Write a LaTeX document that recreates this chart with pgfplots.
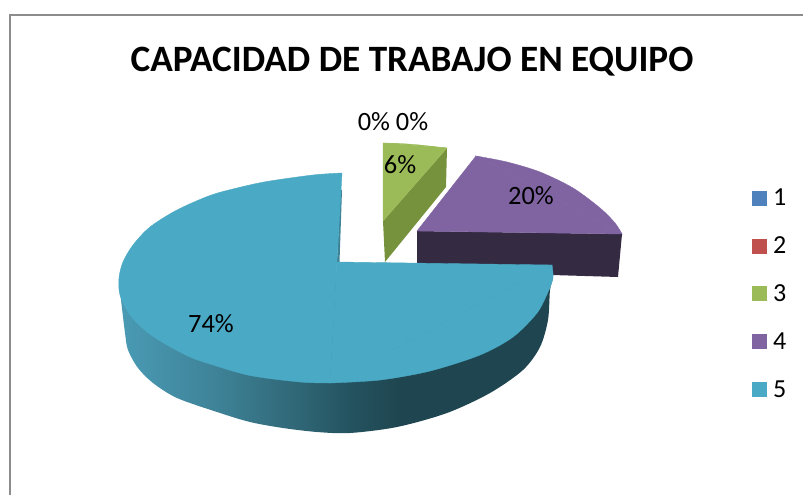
\documentclass[border=0pt]{standalone}
\usepackage{pgfplots}
\pgfplotsset{compat=1.18}
\usepackage{fontspec}
\setmainfont{Carlito}
\definecolor{c1}{HTML}{4F81BD}
\definecolor{c2}{HTML}{C0504D}
\definecolor{c3}{HTML}{9BBB59}
\definecolor{c3d}{HTML}{76923C}
\definecolor{c4}{HTML}{8064A2}
\definecolor{c4d}{HTML}{342A42}
\definecolor{c5}{HTML}{4AA9C4}
\definecolor{s0}{HTML}{4A9BB5}
\definecolor{s1}{HTML}{3E8297}
\definecolor{s2}{HTML}{2F6675}
\definecolor{s3}{HTML}{245360}
\definecolor{s4}{HTML}{1F4650}
\pgfdeclarehorizontalshading{tealside}{100bp}{color(0bp)=(s0); color(25bp)=(s0); color(36.3bp)=(s1); color(45.8bp)=(s2); color(51.6bp)=(s3); color(57.3bp)=(s4); color(100bp)=(s4)}
\begin{document}
\begin{tikzpicture}
\useasboundingbox (0,0) rectangle (803pt,495pt);
\begin{axis}[
  at={(0,0)}, anchor=south west,
  scale only axis, width=803pt, height=495pt,
  xmin=0, xmax=803, ymin=0, ymax=495, y dir=reverse,
  hide axis, clip=false,
  legend cell align=left,
  legend image code/.code={\fill[draw=none,#1] (0pt,-7.5pt) rectangle (15pt,7.5pt); \path[draw=none,fill=none] (0pt,0pt) -- (19pt,0pt);},
  legend style={draw=none, fill=none, at={(axis cs:752,187)}, anchor=north west,
    font=\fontsize{26}{26}\selectfont, row sep=25.5pt, inner sep=0pt, nodes={inner sep=2pt}},
]
% frame
\addplot[forget plot, color=black!45, line width=2pt] coordinates {(803,15.5) (9.5,15.5) (9.5,495)};
% teal side: lower rim, closed by a chord hidden under the top face
\addplot[forget plot, draw=none, shading=tealside, smooth] coordinates {
 (119,283) (121,300) (125,333) (128,350) (138,368) (153,383) (177,398) (217,412) (250,422) (283,428) (317,432) (350,433)
 (397,427) (447,413) (490,393) (523,370) (540,347) (548,320) (550,290) (553,278)
} -- cycle;
% purple side
\addplot[forget plot, draw=none, fill=c4d] coordinates {(417,231) (622,234) (618,277) (552,275) (417,265)} -- cycle;
% purple top
\addplot[forget plot, draw=c4, line width=0.4pt, fill=c4, smooth] coordinates {(476,156) (507,162) (540,172) (573,188) (600,208) (615,223) (622,234)} -- cycle;
\addplot[forget plot, draw=c4, line width=0.4pt, fill=c4] coordinates {(476,156) (622,234) (417,231)} -- cycle;
% green side
\addplot[forget plot, draw=none, fill=c3d] coordinates {(447,148) (446,187) (385,262) (383,221)} -- cycle;
% green top
\addplot[forget plot, draw=c3, line width=0.3pt, fill=c3, smooth] coordinates {(383,143) (400,143.5) (420,145) (447,148)} -- cycle;
\addplot[forget plot, draw=c3, line width=0.3pt, fill=c3] coordinates {(383,143) (447,148) (383,221)} -- cycle;
% teal inner sliver
\addplot[forget plot, draw=none, fill=s1] coordinates {(340.5,190) (342,190) (339.5,262) (337,262)} -- cycle;
% teal top, left part
\addplot[forget plot, draw=c5, line width=0.4pt, fill=c5, smooth] coordinates {
 (342,173) (313,175) (267,181.5) (237,188) (210,195.5) (177,210) (150,227) (133,245) (123,262) (119,278) (120,295) (130,315) (147,332)
 (167,345) (190,357) (210,364) (250,375.5) (300,382) (330,383)
} -- cycle;
% teal top, right part
\addplot[forget plot, draw=c5, line width=0.4pt, fill=c5, smooth] coordinates {
 (330,383) (380,380) (430,371) (480,355) (513,337) (537,313) (548,292) (553,278) (552,265)
} -- cycle;
\addplot[forget plot, draw=c5, line width=0.4pt, fill=c5] coordinates {(330,383) (336.9,262) (552,265)} -- cycle;
% legend
\addlegendimage{fill=c1}\addlegendentry{1}
\addlegendimage{fill=c2}\addlegendentry{2}
\addlegendimage{fill=c3}\addlegendentry{3}
\addlegendimage{fill=c4}\addlegendentry{4}
\addlegendimage{fill=c5}\addlegendentry{5}
% texts
\node[font=\fontsize{37.2}{37}\selectfont\bfseries] at (axis cs:412,61.5) {CAPACIDAD DE TRABAJO EN EQUIPO};
\node[font=\fontsize{26.4}{26}\selectfont] at (axis cs:393,122) {0\% 0\%};
\node[font=\fontsize{26.4}{26}\selectfont] at (axis cs:400,165) {6\%};
\node[font=\fontsize{26.4}{26}\selectfont] at (axis cs:531,196) {20\%};
\node[font=\fontsize{26.4}{26}\selectfont] at (axis cs:211,324) {74\%};
\end{axis}
\end{tikzpicture}
\end{document}
